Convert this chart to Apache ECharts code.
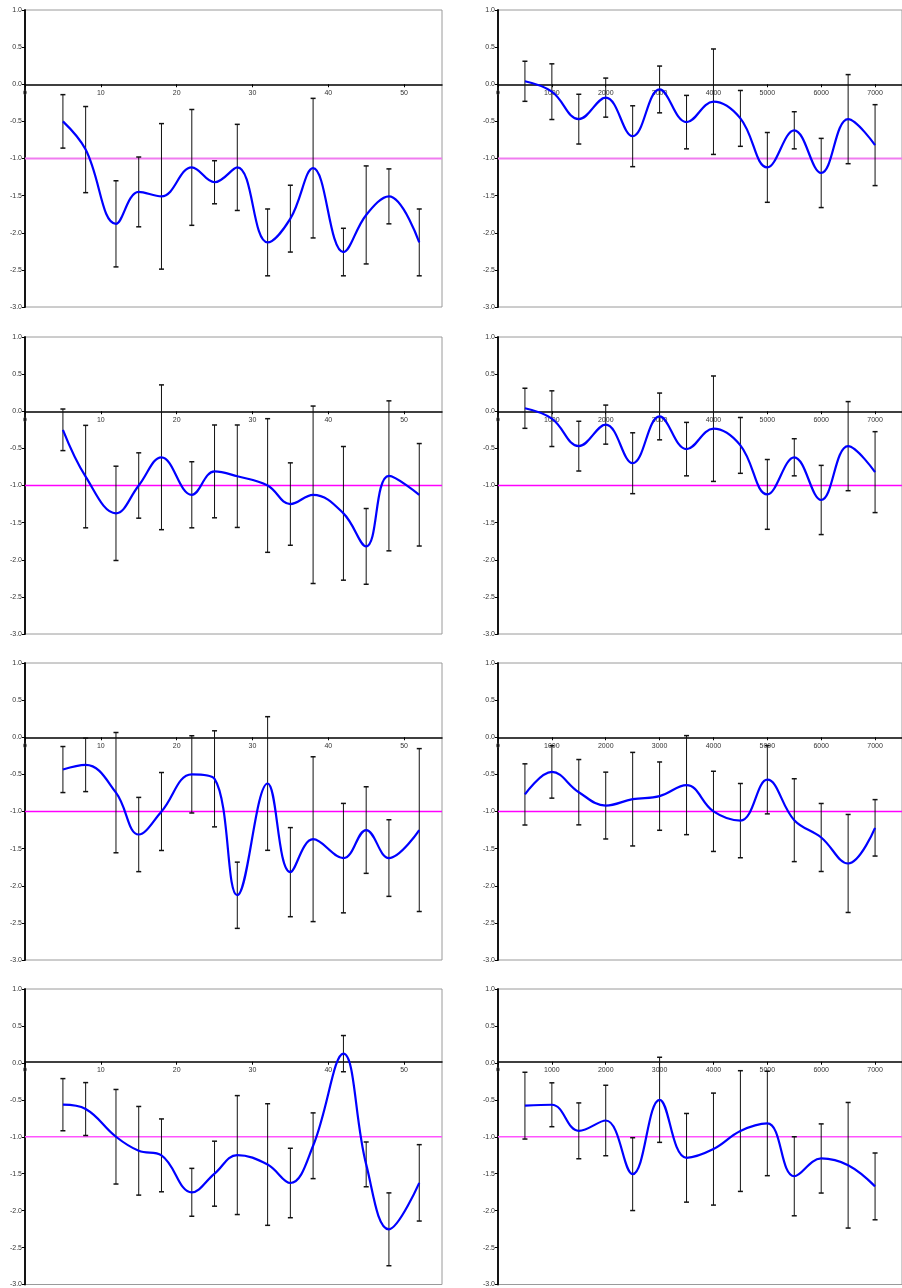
<!DOCTYPE html>
<html><head><meta charset="utf-8">
<script src="https://cdn.jsdelivr.net/npm/echarts@6/dist/echarts.min.js"></script>
<style>html,body{margin:0;padding:0;background:#fff}#c{width:902px;height:1288px}</style>
</head><body><div id="c"></div>
<script>
// ---------- data ----------
const leftX  = [5, 8, 12, 15, 18, 22, 25, 28, 32, 35, 38, 42, 45, 48, 52];
const rightX = [500, 1000, 1500, 2000, 2500, 3000, 3500, 4000, 4500, 5000, 5500, 6000, 6500, 7000];

const leftTicks  = [0, 10, 20, 30, 40, 50];
const rightTicks = [0, 1000, 2000, 3000, 4000, 5000, 6000, 7000];
const yTicks = [-3.0, -2.5, -2.0, -1.5, -1.0, -0.5, 0.0, 0.5, 1.0];
const refLevel = -1.0;

const p1Val = [-0.50, -0.88, -1.88, -1.45, -1.51, -1.12, -1.32, -1.12, -2.13, -1.81, -1.13, -2.26, -1.76, -1.51, -2.13];
const p1Err = [0.36, 0.58, 0.58, 0.47, 0.98, 0.78, 0.29, 0.58, 0.45, 0.45, 0.94, 0.32, 0.66, 0.37, 0.45];

const p2Val = [0.04, -0.10, -0.47, -0.18, -0.70, -0.07, -0.51, -0.235, -0.46, -1.12, -0.62, -1.195, -0.47, -0.82];
const p2Err = [0.27, 0.375, 0.335, 0.263, 0.41, 0.315, 0.36, 0.71, 0.376, 0.47, 0.25, 0.466, 0.60, 0.545];

const p3Val = [-0.25, -0.88, -1.375, -1.0, -0.62, -1.125, -0.81, -0.875, -1.0, -1.25, -1.125, -1.375, -1.82, -0.87, -1.125];
const p3Err = [0.28, 0.69, 0.635, 0.44, 0.975, 0.445, 0.625, 0.69, 0.9, 0.555, 1.195, 0.9, 0.51, 1.01, 0.69];

const p4Val = [0.04, -0.10, -0.47, -0.18, -0.70, -0.07, -0.51, -0.235, -0.46, -1.12, -0.62, -1.195, -0.47, -0.82];
const p4Err = [0.27, 0.375, 0.335, 0.263, 0.41, 0.315, 0.36, 0.71, 0.376, 0.47, 0.25, 0.466, 0.60, 0.545];

const p5Val = [-0.435, -0.372, -0.746, -1.31, -1.0, -0.50, -0.56, -2.128, -0.623, -1.817, -1.373, -1.628, -1.25, -1.627, -1.25];
const p5Err = [0.31, 0.36, 0.81, 0.5, 0.525, 0.52, 0.647, 0.446, 0.90, 0.6, 1.11, 0.737, 0.583, 0.516, 1.097];

const p6Val = [-0.77, -0.467, -0.74, -0.92, -0.834, -0.793, -0.645, -0.998, -1.123, -0.572, -1.117, -1.35, -1.70, -1.22];
const p6Err = [0.412, 0.353, 0.44, 0.45, 0.63, 0.46, 0.667, 0.54, 0.50, 0.46, 0.558, 0.458, 0.66, 0.38];

const p7Val = [-0.566, -0.625, -1.0, -1.19, -1.252, -1.752, -1.50, -1.248, -1.376, -1.626, -1.122, 0.125, -1.374, -2.253, -1.624];
const p7Err = [0.353, 0.358, 0.64, 0.6, 0.493, 0.324, 0.44, 0.805, 0.823, 0.47, 0.445, 0.245, 0.303, 0.493, 0.517];

const p8Val = [-0.579, -0.567, -0.92, -0.78, -1.506, -0.5, -1.285, -1.167, -0.923, -0.82, -1.535, -1.294, -1.386, -1.672];
const p8Err = [0.452, 0.297, 0.378, 0.477, 0.493, 0.576, 0.6, 0.758, 0.817, 0.707, 0.535, 0.468, 0.85, 0.452];

// ---------- layout / style ----------
const panels = [
  {x: leftX,  v: p1Val, e: p1Err},
  {x: rightX, v: p2Val, e: p2Err},
  {x: leftX,  v: p3Val, e: p3Err},
  {x: rightX, v: p4Val, e: p4Err},
  {x: leftX,  v: p5Val, e: p5Err},
  {x: rightX, v: p6Val, e: p6Err},
  {x: leftX,  v: p7Val, e: p7Err},
  {x: rightX, v: p8Val, e: p8Err}
];
const refStyles = [
  {color: '#F07CF0', width: 2}, {color: '#F07CF0', width: 2},
  {color: '#FF00FF', width: 1.4}, {color: '#FF00FF', width: 1.4},
  {color: '#FF00FF', width: 1.4}, {color: '#FF00FF', width: 1.4},
  {color: '#FF55FF', width: 1.6}, {color: '#FF55FF', width: 1.6}
];
const rowTops = [10, 337, 663, 989];
const H = 297;
const YMIN = -3, YMAX = 1;
const zeroOffset = -H * (0 - YMIN) / (YMAX - YMIN);   // move x axis up to y = 0
const FONT = 'Liberation Sans, Arial, sans-serif';

const grids = [], xAxes = [], yAxes = [], series = [];
panels.forEach((p, i) => {
  const row = Math.floor(i / 2), col = i % 2;
  const isLeft = col === 0;
  grids.push(isLeft
    ? {left: 25, top: rowTops[row], width: 417, height: H, show: true, borderColor: '#9a9a9a', borderWidth: 1, containLabel: false}
    : {left: 498, top: rowTops[row], width: 414, height: H, show: true, borderColor: '#9a9a9a', borderWidth: 1, containLabel: false});
  const xmax = isLeft ? 55 : 7500;
  const xt = isLeft ? leftTicks : rightTicks;
  xAxes.push({
    type: 'value', gridIndex: i, min: 0, max: xmax, interval: isLeft ? 10 : 1000,
    position: 'bottom', offset: zeroOffset,
    axisLine: {show: true, onZero: false, lineStyle: {color: '#000', width: 1.5}},
    axisTick: {show: true, length: 3, inside: false, lineStyle: {color: '#000', width: 1}, customValues: xt},
    axisLabel: {show: true, fontSize: 7, color: '#333', margin: 5, fontFamily: FONT, customValues: xt,
      formatter: v => String(v)},
    splitLine: {show: false}
  });
  yAxes.push({
    type: 'value', gridIndex: i, min: YMIN, max: YMAX, interval: 0.5,
    axisLine: {show: true, onZero: false, lineStyle: {color: '#000', width: 1.8}},
    axisTick: {show: true, length: 3, lineStyle: {color: '#000', width: 1}},
    axisLabel: {show: true, fontSize: 7, color: '#333', margin: 3, fontFamily: FONT,
      formatter: v => Number(v).toFixed(1)},
    splitLine: {show: false}
  });
  // reference line at -1
  series.push({
    type: 'line', xAxisIndex: i, yAxisIndex: i, silent: true, z: 2,
    data: [[0, refLevel], [xmax, refLevel]], showSymbol: false, symbol: 'none',
    lineStyle: {color: refStyles[i].color, width: refStyles[i].width}
  });
  // error bars
  series.push({
    type: 'custom', xAxisIndex: i, yAxisIndex: i, silent: true, z: 3,
    data: p.x.map((xx, j) => [xx, p.v[j], p.e[j]]),
    encode: {x: 0, y: 1},
    renderItem: (params, api) => {
      const xx = api.value(0), yy = api.value(1), ee = api.value(2);
      const t = api.coord([xx, yy + ee]), b = api.coord([xx, yy - ee]);
      const cw = 2.5;
      const st = {stroke: '#111', lineWidth: 1};
      const cs = {stroke: '#111', lineWidth: 1.5};
      return {type: 'group', children: [
        {type: 'line', shape: {x1: t[0], y1: t[1], x2: b[0], y2: b[1]}, style: st},
        {type: 'line', shape: {x1: t[0] - cw, y1: t[1], x2: t[0] + cw, y2: t[1]}, style: cs},
        {type: 'line', shape: {x1: b[0] - cw, y1: b[1], x2: b[0] + cw, y2: b[1]}, style: cs}
      ]};
    }
  });
  // smoothed curve
  series.push({
    type: 'line', xAxisIndex: i, yAxisIndex: i, silent: true, z: 4,
    data: p.x.map((xx, j) => [xx, p.v[j]]),
    smooth: 0.4, showSymbol: false, symbol: 'none',
    lineStyle: {color: '#0000FF', width: 2.2}
  });
});

const chart = echarts.init(document.getElementById('c'), null, {renderer: 'canvas'});
chart.setOption({
  animation: false,
  backgroundColor: '#fff',
  textStyle: {fontFamily: FONT},
  grid: grids, xAxis: xAxes, yAxis: yAxes, series: series
});
</script></body></html>
